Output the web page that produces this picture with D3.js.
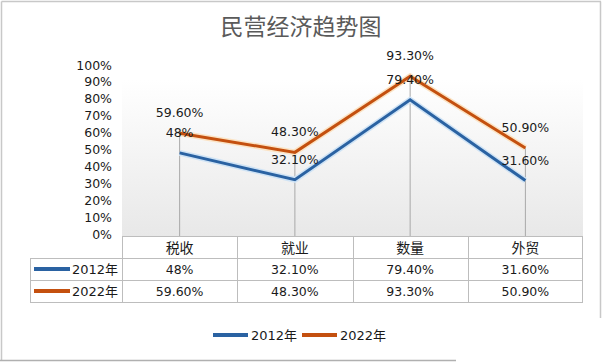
<!DOCTYPE html>
<html><head><meta charset="utf-8">
<script src="https://cdn.jsdelivr.net/npm/d3@7/dist/d3.min.js"></script>
<style>
html,body{margin:0;padding:0;background:#fff;}
svg{display:block;}
text{font-family:"DejaVu Sans",sans-serif;}
</style></head>
<body>
<svg id="c" width="602" height="362"></svg>
<script>
const title = "民营经济趋势图";
const categories = ["税收","就业","数量","外贸"];
const seriesNames = ["2012年","2022年"];
const values2012 = [48, 32.1, 79.4, 31.6];
const values2022 = [59.6, 48.3, 93.3, 50.9];
const labels2012 = ["48%","32.10%","79.40%","31.60%"];
const labels2022 = ["59.60%","48.30%","93.30%","50.90%"];
const yTicks = [0,10,20,30,40,50,60,70,80,90,100];
const colors = ["#2a62a2","#c4500f"];

const svg = d3.select("#c");
// outer frame
svg.append("line").attr("x1",1.5).attr("x2",601).attr("y1",1.5).attr("y2",1.5).attr("stroke","#c8c8c8").attr("stroke-width",1.5);
svg.append("line").attr("x1",1.5).attr("x2",1.5).attr("y1",1.5).attr("y2",361).attr("stroke","#c8c8c8").attr("stroke-width",1.5);
svg.append("line").attr("x1",600.5).attr("x2",600.5).attr("y1",1.5).attr("y2",318).attr("stroke","#c8c8c8").attr("stroke-width",1.5);
svg.append("line").attr("x1",0).attr("x2",456).attr("y1",360.5).attr("y2",360.5).attr("stroke","#b0b0b0").attr("stroke-width",1.5);

svg.append("text").attr("x",301).attr("y",35).attr("text-anchor","middle")
  .attr("font-size",23).attr("fill","#5a5a5a").style("font-family","'Noto Sans CJK SC',sans-serif")
  .text(title);

const x = d3.scaleBand().domain(categories).range([122,583]);
const y = d3.scaleLinear().domain([0,100]).range([234,65]);

// plot background gradient
const defs = svg.append("defs");
const g = defs.append("linearGradient").attr("id","bg").attr("x1",0).attr("x2",0).attr("y1",0).attr("y2",1);
g.append("stop").attr("offset","0%").attr("stop-color","#ffffff");
g.append("stop").attr("offset","100%").attr("stop-color","#e8e8e8");
svg.append("rect").attr("x",122).attr("y",80).attr("width",461).attr("height",156).attr("fill","url(#bg)");

// y axis labels
const yAxis = d3.axisLeft(y).tickValues(yTicks).tickFormat(d=>d+"%").tickSize(0).tickPadding(0);
const ya = svg.append("g").attr("transform","translate(112,0)").call(yAxis);
ya.select(".domain").remove();
ya.selectAll("text").attr("font-size",12.5).attr("fill","#1a1a1a").style("font-family","'DejaVu Sans',sans-serif");

// drop lines
categories.forEach((c,i)=>{
  const cx = x(c)+x.bandwidth()/2;
  svg.append("line").attr("x1",cx).attr("x2",cx)
    .attr("y1",y(Math.max(values2012[i],values2022[i]))).attr("y2",236)
    .attr("stroke","#a8a8a8").attr("stroke-width",1);
});

const line = d3.line().x((d,i)=>x(categories[i])+x.bandwidth()/2).y(d=>y(d));
[values2012, values2022].forEach((vals,k)=>{
  svg.append("path").datum(vals).attr("d",line).attr("fill","none")
    .attr("stroke", k===0?"#cfe3f5":"#fbe3c4").attr("stroke-width",6).attr("stroke-linejoin","miter");
});
[values2012, values2022].forEach((vals,k)=>{
  svg.append("path").datum(vals).attr("d",line).attr("fill","none")
    .attr("stroke",colors[k]).attr("stroke-width",3).attr("stroke-linejoin","miter");
});

// data labels
[[values2012,labels2012],[values2022,labels2022]].forEach(([vals,labs])=>{
  vals.forEach((v,i)=>{
    svg.append("text").attr("x",x(categories[i])+x.bandwidth()/2).attr("y",y(v)-16)
      .attr("text-anchor","middle").attr("font-size",12.5).attr("fill","#1a1a1a").text(labs[i]);
  });
});

// data table
const tb = svg.append("g");
const gridC = "#bdbdbd";
const rowY = [236,258,280,302];
tb.append("line").attr("x1",122).attr("x2",583).attr("y1",236.5).attr("y2",236.5).attr("stroke",gridC);
[258,280,302].forEach(yy=>tb.append("line").attr("x1",30).attr("x2",583).attr("y1",yy+0.5).attr("y2",yy+0.5).attr("stroke",gridC));
tb.append("line").attr("x1",30.5).attr("x2",30.5).attr("y1",258).attr("y2",302).attr("stroke",gridC);
x.domain().forEach(c=>{
  tb.append("line").attr("x1",Math.round(x(c))+0.5).attr("x2",Math.round(x(c))+0.5).attr("y1",236).attr("y2",302).attr("stroke",gridC);
});
tb.append("line").attr("x1",582.5).attr("x2",582.5).attr("y1",236).attr("y2",302).attr("stroke",gridC);

categories.forEach(c=>{
  tb.append("text").attr("x",x(c)+x.bandwidth()/2).attr("y",253).attr("text-anchor","middle")
    .attr("font-size",14).attr("fill","#1a1a1a").style("font-family","'Noto Sans CJK SC',sans-serif").text(c);
});
[labels2012, labels2022].forEach((labs,k)=>{
  const yy = rowY[k+1];
  tb.append("line").attr("x1",34).attr("x2",70).attr("y1",yy+11).attr("y2",yy+11).attr("stroke",colors[k]).attr("stroke-width",4);
  tb.append("text").attr("x",118).attr("y",yy+16).attr("text-anchor","end").attr("font-size",13).attr("fill","#1a1a1a")
    .style("font-family","'DejaVu Sans','Noto Sans CJK SC',sans-serif").text(seriesNames[k]);
  labs.forEach((l,i)=>{
    tb.append("text").attr("x",x(categories[i])+x.bandwidth()/2).attr("y",yy+16).attr("text-anchor","middle")
      .attr("font-size",12.5).attr("fill","#1a1a1a").text(l);
  });
});

// legend
const lg = svg.append("g");
const legX = [213, 302];
seriesNames.forEach((s,k)=>{
  lg.append("line").attr("x1",legX[k]).attr("x2",legX[k]+35).attr("y1",335).attr("y2",335).attr("stroke",colors[k]).attr("stroke-width",4);
  lg.append("text").attr("x",legX[k]+38).attr("y",340).attr("font-size",13).attr("fill","#1a1a1a")
    .style("font-family","'DejaVu Sans','Noto Sans CJK SC',sans-serif").text(s);
});
</script>
</body></html>
